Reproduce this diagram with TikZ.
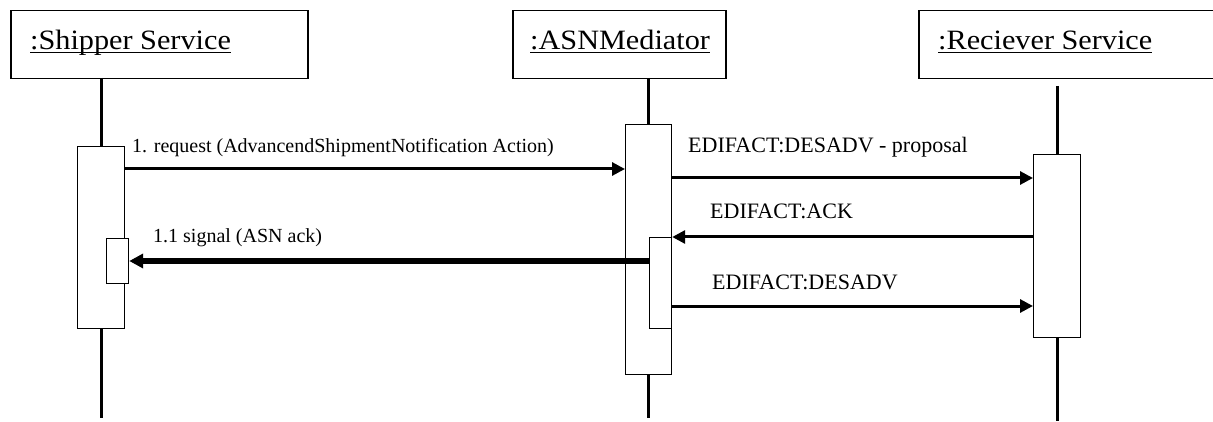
\documentclass[tikz,border=0pt]{standalone}
\usepackage{fontspec}
\setmainfont{Liberation Serif}
\usetikzlibrary{arrows.meta}
% object name with a solid underline
\newcommand\objname[1]{\setbox0\hbox{#1}\rlap{\rule[-3pt]{\wd0}{1.3pt}}\box0}
\begin{document}
\begin{tikzpicture}[x=1pt,y=-1pt,
  objbox/.style={draw, line width=1.5pt, fill=white, anchor=north west, inner sep=0pt},
  actbox/.style={draw, line width=1.2pt, fill=white, anchor=north west, inner sep=0pt},
  objlabel/.style={anchor=base west, inner sep=0pt, font=\fontsize{28}{28}\selectfont},
  msglabel/.style={anchor=base west, inner sep=0pt, font=\fontsize{20}{20}\selectfont},
  edilabel/.style={anchor=base west, inner sep=0pt, font=\fontsize{22}{22}\selectfont},
  lifeline/.style={line width=3pt},
  msg/.style={line width=3pt, -{Triangle[length=13pt,width=13pt]}},
  heavymsg/.style={line width=5pt, -{Triangle[length=14pt,width=14pt]}}
]
% the canvas; the receiver box runs past its right edge
\clip (0,0) rectangle (1213,422);

% object boxes
\node[objbox, minimum width=297pt, minimum height=68pt] (shipper) at (10,10) {};
\node[objbox, minimum width=213pt, minimum height=68pt] (mediator) at (512,10) {};
\node[objbox, minimum width=310pt, minimum height=68pt] (receiver) at (918,10) {};
\node[objlabel] (shipperlbl) at (30,50) {\scalebox{1.08}[1]{\objname{:Shipper Service}}};
\node[objlabel] (mediatorlbl) at (530,50) {\scalebox{1.08}[1]{\objname{:ASNMediator}}};
\node[objlabel] (receiverlbl) at (938,50) {\scalebox{1.08}[1]{\objname{:Reciever Service}}};

% lifeline end points
\coordinate (shipperend) at (101,418);
\coordinate (mediatorend) at (648,418);
\coordinate (receiverend) at (1057,421);
\coordinate (receivertop) at (1057,86);

% lifelines (drawn first, activation boxes cover them)
\draw[lifeline] (101,78) -- (shipperend);
\draw[lifeline] (648,78) -- (mediatorend);
\draw[lifeline] (receivertop) -- (receiverend);

% activation boxes
\node[actbox, minimum width=47pt, minimum height=182pt] (shipperact) at (77,146) {};
\node[actbox, minimum width=22pt, minimum height=45pt] (shipperinner) at (106,238) {};
\node[actbox, minimum width=46pt, minimum height=250pt] (mediatoract) at (625,124) {};
\node[actbox, minimum width=22pt, minimum height=91pt] (mediatorinner) at (649,237) {};
\node[actbox, minimum width=47pt, minimum height=183pt] (receiveract) at (1033,154) {};

% messages
\draw[msg] (shipperact.east |- 0,169) -- (mediatoract.west |- 0,169);
\draw[msg] (mediatoract.east |- 0,178) -- (receiveract.west |- 0,178);
\draw[msg] (receiveract.west |- 0,237) -- (mediatorinner.east |- 0,237);
\draw[heavymsg] (mediatorinner.west |- 0,261) -- (shipperinner.east |- 0,261);
\draw[msg] (mediatoract.east |- 0,306) -- (receiveract.west |- 0,306);

% message labels
\node[msglabel] (reqlbl) at (132,153) {1. request (AdvancendShipmentNotification Action)};
\node[msglabel] (siglbl) at (153,243) {1.1 signal (ASN ack)};
\node[edilabel] (proplbl) at (688,153) {EDIFACT:DESADV - proposal};
\node[edilabel] (acklbl) at (710,219) {EDIFACT:ACK};
\node[edilabel] (desadvlbl) at (712,289) {EDIFACT:DESADV};
\end{tikzpicture}
\end{document}
